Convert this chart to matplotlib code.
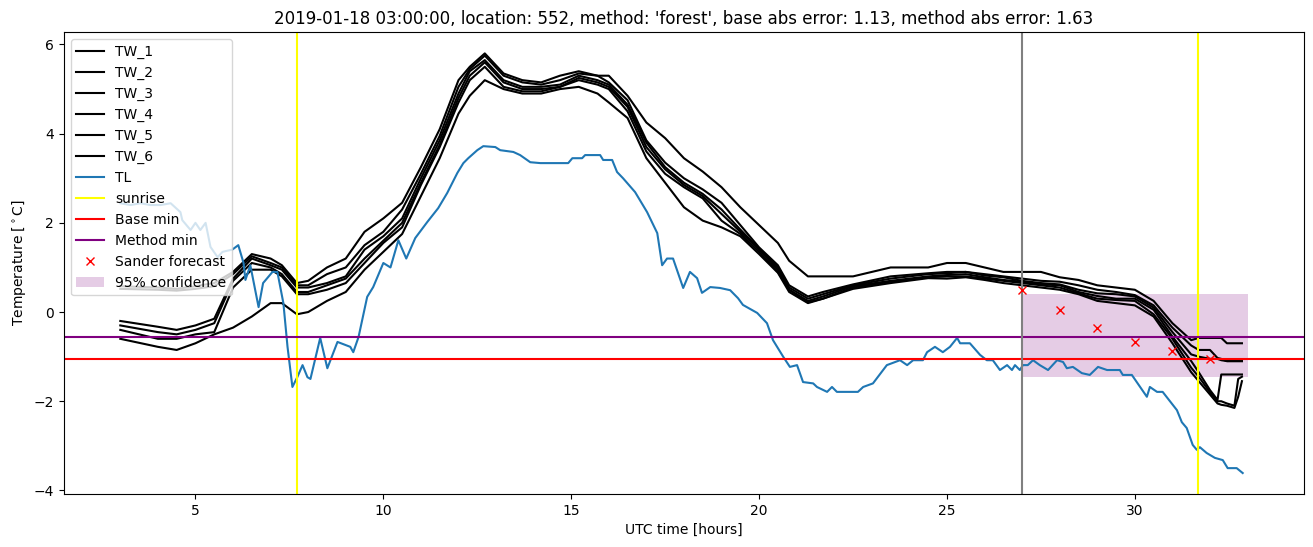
import numpy as np
import matplotlib
matplotlib.use("Agg")
import matplotlib.pyplot as plt

# Lufttemperatur (TL), gelesen aus dem Bild
tl_hours = [3.0, 3.27, 3.54, 3.8, 4.07, 4.34, 4.6, 4.65, 4.87, 5.0, 5.13, 5.27, 5.4, 5.59, 5.72,
            5.98, 6.14, 6.28, 6.33, 6.46, 6.68, 6.8, 7.05, 7.18, 7.34, 7.45, 7.58, 7.71, 7.85, 7.98,
            8.06, 8.32, 8.51, 8.78, 9.12, 9.2, 9.34, 9.57, 9.73, 10.0, 10.19, 10.4, 10.61, 10.85,
            11.17, 11.46, 11.7, 11.97, 12.13, 12.26, 12.5, 12.66, 12.98, 13.11, 13.46, 13.64, 13.91,
            14.18, 14.92, 15.03, 15.29, 15.37, 15.77, 15.85, 16.09, 16.22, 16.38, 16.7, 17.02, 17.29,
            17.42, 17.55, 17.71, 17.98, 18.16, 18.35, 18.48, 18.7, 18.96, 19.23, 19.44, 19.57, 19.95,
            20.21, 20.37, 20.64, 20.82, 21.01, 21.17, 21.44, 21.54, 21.81, 21.94, 22.07, 22.63, 22.77,
            23.03, 23.3, 23.4, 23.75, 23.94, 24.1, 24.36, 24.47, 24.68, 24.89, 25.08, 25.27, 25.35,
            25.61, 25.88, 26.06, 26.22, 26.41, 26.6, 26.73, 26.81, 26.94, 27.02, 27.15, 27.29, 27.47,
            27.69, 27.93, 28.09, 28.19, 28.35, 28.59, 28.8, 29.02, 29.26, 29.6, 29.68, 29.92, 30.32,
            30.4, 30.59, 30.74, 31.12, 31.25, 31.38, 31.54, 31.65, 31.73, 31.91, 32.13, 32.34, 32.47,
            32.71, 32.87]
tl_temp = [2.44, 2.4, 2.44, 2.4, 2.4, 2.44, 2.24, 2.06, 1.84, 2.0, 1.84, 2.0, 1.46, 1.23, 1.35,
           1.4, 1.5, 1.1, 0.72, 1.05, 0.11, 0.65, 0.9, 0.9, 0.2, -0.78, -1.68, -1.46, -1.19, -1.46,
           -1.5, -0.58, -1.26, -0.67, -0.78, -0.9, -0.56, 0.34, 0.56, 1.1, 1.0, 1.61, 1.2, 1.66,
           2.02, 2.33, 2.67, 3.12, 3.34, 3.45, 3.63, 3.72, 3.7, 3.63, 3.59, 3.52, 3.36,
           3.34, 3.34, 3.45, 3.45, 3.52, 3.52, 3.41, 3.41, 3.14, 3.0, 2.69, 2.24, 1.77,
           1.05, 1.2, 1.2, 0.54, 0.9, 0.76, 0.43, 0.56, 0.54, 0.49, 0.31, 0.16, -0.02,
           -0.25, -0.63, -1.0, -1.23, -1.19, -1.57, -1.6, -1.68, -1.79, -1.68, -1.79, -1.79, -1.68,
           -1.6, -1.3, -1.19, -1.08, -1.19, -1.08, -1.08, -0.9, -0.78, -0.9, -0.78, -0.58, -0.7,
           -0.7, -0.96, -1.08, -1.08, -1.3, -1.19, -1.3, -1.19, -1.3, -1.19, -1.19, -1.08, -1.19,
           -1.3, -1.08, -1.12, -1.26, -1.23, -1.37, -1.41, -1.23, -1.3, -1.3, -1.41, -1.41, -1.9,
           -1.68, -1.79, -1.79, -2.2, -2.47, -2.6, -2.98, -3.09, -3.03, -3.16, -3.27, -3.32, -3.5,
           -3.5, -3.61]

# Wegtemperaturen TW_1..TW_6
tw_hours = [3.0, 4.0, 4.5, 5.0, 5.5, 6.0, 6.5, 7.0, 7.3, 7.7, 8.0, 8.5, 9.0, 9.5, 10.0, 10.5,
            11.0, 11.5, 12.0, 12.3, 12.7, 13.2, 13.7, 14.2, 14.7, 15.2, 15.7, 16.0, 16.5, 17.0,
            17.5, 18.0, 18.5, 19.0, 19.5, 20.0, 20.5, 20.8, 21.3, 21.7, 22.5, 23.5, 24.5, 25.0,
            25.5, 26.0, 26.5, 27.0, 27.5, 28.0, 28.5, 29.0, 29.5, 30.0, 30.5, 31.0, 31.5, 31.7,
            32.0, 32.2, 32.3, 32.45, 32.65, 32.75, 32.85]
tw_1 = [0.58, 0.55, 0.52, 0.58, 0.65, 0.9, 1.3, 1.2, 1.05, 0.65, 0.7, 1.0, 1.2, 1.8, 2.1, 2.45,
        3.25, 4.1, 5.2, 5.5, 5.8, 5.35, 5.2, 5.15, 5.3, 5.4, 5.3, 5.3, 4.85, 4.25,
        3.9, 3.45, 3.15, 2.8, 2.35, 1.95, 1.55, 1.15, 0.8, 0.8, 0.8, 1.0, 1.0, 1.1,
        1.1, 1.0, 0.9, 0.9, 0.9, 0.78, 0.72, 0.6, 0.55, 0.5, 0.25, -0.25, -0.63, -0.58,
        -0.58, -0.58, -0.58, -0.7, -0.7, -0.7, -0.7]
tw_2 = [0.52, 0.5, 0.48, 0.52, 0.58, 0.85, 1.25, 1.1, 1.0, 0.6, 0.6, 0.85, 1.0, 1.5, 1.8, 2.3,
        3.1, 3.95, 5.05, 5.45, 5.75, 5.3, 5.15, 5.1, 5.2, 5.35, 5.3, 5.15, 4.75, 3.85,
        3.35, 3.0, 2.75, 2.45, 1.95, 1.45, 1.05, 0.6, 0.35, 0.45, 0.62, 0.8, 0.87, 0.9,
        0.9, 0.85, 0.8, 0.75, 0.7, 0.68, 0.6, 0.5, 0.45, 0.38, 0.15, -0.35, -0.75, -0.85,
        -0.85, -1.03, -1.05, -1.1, -1.1, -1.1, -1.1]
tw_3 = [-0.2, -0.33, -0.4, -0.3, -0.15, 0.75, 1.2, 1.05, 0.95, 0.55, 0.55, 0.65, 0.8, 1.4, 1.7, 2.1,
        3.0, 3.85, 4.9, 5.4, 5.65, 5.2, 5.05, 5.05, 5.1, 5.3, 5.2, 5.1, 4.65, 3.8,
        3.25, 2.9, 2.65, 2.3, 1.85, 1.42, 1.0, 0.55, 0.3, 0.4, 0.6, 0.75, 0.85, 0.87,
        0.9, 0.82, 0.78, 0.7, 0.65, 0.62, 0.5, 0.42, 0.4, 0.35, 0.1, -0.45, -0.95, -1.0,
        -1.05, -1.05, -1.08, -1.1, -1.1, -1.1, -1.1]
tw_4 = [-0.3, -0.45, -0.5, -0.4, -0.25, 0.7, 1.1, 1.0, 0.85, 0.45, 0.45, 0.6, 0.75, 1.2, 1.6, 2.0,
        2.9, 3.75, 4.8, 5.3, 5.6, 5.15, 5.0, 5.0, 5.05, 5.25, 5.15, 5.05, 4.6, 3.7,
        3.2, 2.85, 2.6, 2.2, 1.8, 1.4, 0.95, 0.5, 0.25, 0.35, 0.58, 0.7, 0.8, 0.83,
        0.85, 0.78, 0.72, 0.68, 0.62, 0.6, 0.45, 0.36, 0.3, 0.3, 0.05, -0.55, -1.1, -1.35,
        -1.75, -1.97, -1.4, -1.4, -1.4, -1.4, -1.4]
tw_5 = [-0.4, -0.6, -0.6, -0.5, -0.45, 0.55, 0.95, 0.95, 0.8, 0.4, 0.4, 0.5, 0.65, 1.1, 1.55, 1.9,
        2.85, 3.7, 4.7, 5.2, 5.5, 5.05, 4.95, 4.95, 5.05, 5.2, 5.1, 5.0, 4.5, 3.6,
        3.1, 2.8, 2.55, 2.05, 1.75, 1.35, 0.9, 0.5, 0.22, 0.3, 0.55, 0.68, 0.78, 0.8,
        0.8, 0.75, 0.7, 0.65, 0.6, 0.55, 0.42, 0.3, 0.27, 0.25, -0.05, -0.6, -1.25, -1.45,
        -1.8, -2.0, -2.0, -2.05, -2.1, -1.5, -1.45]
tw_6 = [-0.6, -0.78, -0.85, -0.7, -0.5, -0.35, -0.1, 0.2, 0.2, -0.05, 0.0, 0.25, 0.45, 0.95, 1.35, 1.75,
        2.6, 3.45, 4.45, 4.85, 5.2, 5.0, 4.9, 4.9, 5.0, 5.05, 4.9, 4.7, 4.35, 3.45,
        2.9, 2.35, 2.05, 1.9, 1.7, 1.3, 0.88, 0.45, 0.2, 0.3, 0.52, 0.65, 0.76, 0.75,
        0.78, 0.72, 0.65, 0.6, 0.55, 0.5, 0.4, 0.25, 0.2, 0.15, -0.1, -0.7, -1.35, -1.55,
        -1.85, -2.05, -2.08, -2.1, -2.15, -1.9, -1.55]

# Vorhersage und Kennwerte
forecast_hours = [27, 28, 29, 30, 31, 32]
forecast_temp = [0.49, 0.04, -0.36, -0.67, -0.87, -1.05]
conf_hours = [27, 33]
conf_low = -1.46
conf_high = 0.40
sunrise_hours = [7.70, 31.67]
base_min = -1.05
method_min = -0.55
forecast_start = 27

fig = plt.figure(figsize=(13.13, 5.47), dpi=100)
ax = fig.add_axes([0.0487, 0.0969, 0.9444, 0.8446])

for i, tw in enumerate([tw_1, tw_2, tw_3, tw_4, tw_5, tw_6]):
    ax.plot(tw_hours, tw, color='black', label=f'TW_{i + 1}')
ax.plot(tl_hours, tl_temp, color='tab:blue', label='TL')
ax.axvline(sunrise_hours[0], color='yellow', label='sunrise')
ax.axvline(sunrise_hours[1], color='yellow')
ax.axhline(base_min, color='red', label='Base min')
ax.axhline(method_min, color='purple', label='Method min')
ax.axvline(forecast_start, color='gray')
ax.plot(forecast_hours, forecast_temp, 'x', color='red', label='Sander forecast')
ax.fill_between(conf_hours, [conf_low, conf_low], [conf_high, conf_high],
                color='purple', alpha=0.2, linewidth=0, label='95% confidence')

ax.set_xlim(1.5, 34.5)
ax.set_ylim(-4.08, 6.28)
ax.set_title("2019-01-18 03:00:00, location: 552, method: 'forest', "
             "base abs error: 1.13, method abs error: 1.63")
ax.set_xlabel('UTC time [hours]')
ax.set_ylabel(r'Temperature [$^\circ$C]')
ax.legend(loc='upper left')

fig.savefig('out.png', dpi=100)
